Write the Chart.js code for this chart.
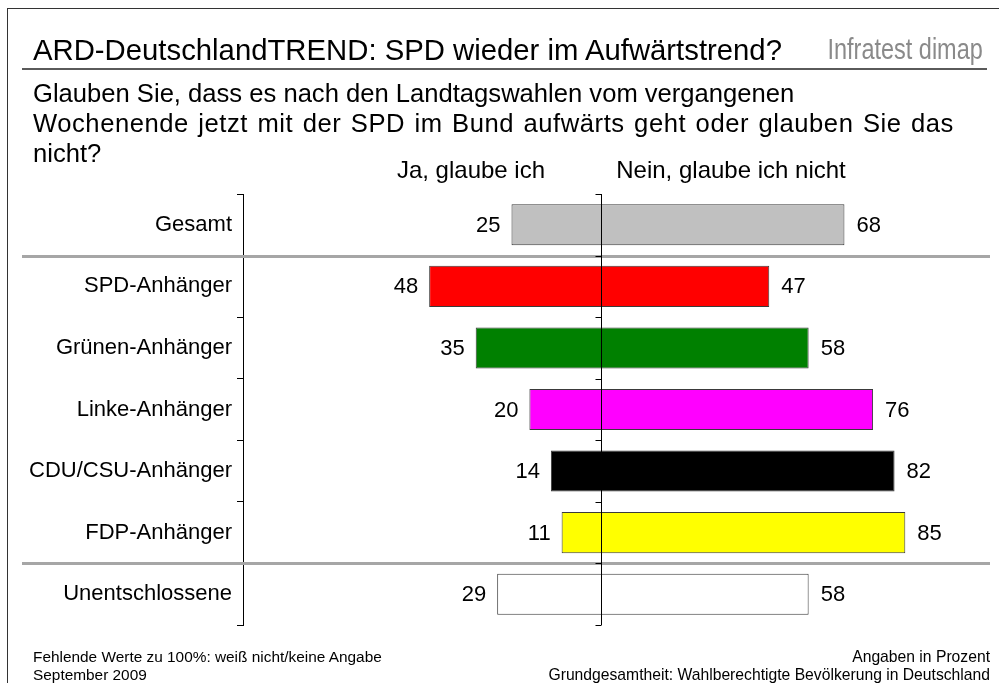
<!DOCTYPE html>
<html>
<head>
<meta charset="utf-8">
<script src="https://cdn.jsdelivr.net/npm/chart.js@4.4.1/dist/chart.umd.min.js"></script>
<style>
  html, body { margin: 0; padding: 0; background: #fff; }
  #wrap { position: relative; width: 999px; height: 683px; overflow: hidden; font-family: "Liberation Sans", Arial, sans-serif; color: #000; }
  #chartBox { position: absolute; left: 0; top: 0; width: 999px; height: 683px; }
  .t { position: absolute; white-space: nowrap; }
  .frameTop { position: absolute; left: 7px; top: 8px; width: 992px; height: 1px; background: #333; }
  .frameLeft { position: absolute; left: 7px; top: 8px; width: 1px; height: 675px; background: #333; }
  .rule { position: absolute; left: 22px; top: 68px; width: 965px; height: 2px; background: #5a5a5a; }
  #brand { transform: scaleX(0.81); transform-origin: right center; }
</style>
</head>
<body>
<div id="wrap">
  <div id="chartBox"><canvas id="c"></canvas></div>
  <div class="frameTop"></div>
  <div class="frameLeft"></div>
  <div class="t" id="title" style="left:33px; top:35.3px; font-size:29.3px; line-height:29.3px;">ARD-DeutschlandTREND: SPD wieder im Aufwärtstrend?</div>
  <div class="t" id="brand" style="right:16px; top:35px; font-size:29px; line-height:29px; color:#8a8a8a;">Infratest dimap</div>
  <div class="rule"></div>
  <div class="t" id="question" style="left:33px; top:78px; font-size:25.6px; line-height:30px;">Glauben Sie, dass es nach den Landtagswahlen vom vergangenen<br><span style="letter-spacing:0.55px; word-spacing:1.8px">Wochenende jetzt mit der SPD im Bund aufwärts geht oder glauben Sie das</span><br>nicht?</div>
  <div class="t" id="hJa" style="left:371px; width:200px; text-align:center; top:157.7px; font-size:24px; line-height:24px;">Ja, glaube ich</div>
  <div class="t" id="hNein" style="left:581px; width:300px; text-align:center; top:157.7px; font-size:24px; line-height:24px;">Nein, glaube ich nicht</div>
  <div class="t" style="left:33px; top:648px; font-size:15.4px; line-height:18px;">Fehlende Werte zu 100%: weiß nicht/keine Angabe<br>September 2009</div>
  <div class="t" style="right:9px; top:648px; font-size:15.7px; line-height:18px; text-align:right;">Angaben in Prozent<br>Grundgesamtheit: Wahlberechtigte Bevölkerung in Deutschland</div>
</div>
<script>
// ---- data ----
const categories = ['Gesamt', 'SPD-Anhänger', 'Grünen-Anhänger', 'Linke-Anhänger', 'CDU/CSU-Anhänger', 'FDP-Anhänger', 'Unentschlossene'];
const jaValues = [25, 48, 35, 20, 14, 11, 29];
const neinValues = [68, 47, 58, 76, 82, 85, 58];
const seriesNames = ['Ja, glaube ich', 'Nein, glaube ich nicht'];
const separatorAfter = [0, 5];
// ---- styles ----
const barColors = ['#c0c0c0', '#ff0000', '#008000', '#ff00ff', '#000000', '#ffff00', '#ffffff'];

const valueLabels = {
  id: 'valueLabels',
  afterDatasetsDraw(chart) {
    const ctx = chart.ctx;
    ctx.save();
    ctx.font = '22px "Liberation Sans", Arial, sans-serif';
    ctx.fillStyle = '#000';
    ctx.textBaseline = 'middle';
    chart.data.datasets.forEach((ds, di) => {
      const meta = chart.getDatasetMeta(di);
      meta.data.forEach((el, i) => {
        const v = Math.abs(ds.data[i]);
        if (di === 0) {
          ctx.textAlign = 'right';
          ctx.fillText(String(v), el.x - 11, el.y + 1);
        } else {
          ctx.textAlign = 'left';
          ctx.fillText(String(v), el.x + 12, el.y + 1);
        }
      });
    });
    ctx.restore();
  }
};

const axesDecor = {
  id: 'axesDecor',
  afterDraw(chart) {
    const ctx = chart.ctx;
    const ys = chart.scales.y, xs = chart.scales.x;
    const area = chart.chartArea;
    ctx.save();
    // separators
    ctx.strokeStyle = '#a6a6a6';
    ctx.lineWidth = 3;
    separatorAfter.forEach(i => {
      const y = Math.round((ys.getPixelForValue(i) + ys.getPixelForValue(i + 1)) / 2) + 0.5;
      ctx.beginPath();
      ctx.moveTo(22, y);
      ctx.lineTo(990, y);
      ctx.stroke();
    });
    // center axis
    const x0 = Math.round(xs.getPixelForValue(0)) + 0.5;
    ctx.strokeStyle = '#000';
    ctx.lineWidth = 1;
    ctx.beginPath();
    ctx.moveTo(x0, area.top);
    ctx.lineTo(x0, area.bottom);
    ctx.stroke();
    const n = categories.length;
    for (let i = 0; i <= n; i++) {
      let y;
      if (i === 0) y = area.top;
      else if (i === n) y = area.bottom;
      else y = (ys.getPixelForValue(i - 1) + ys.getPixelForValue(i)) / 2;
      y = Math.round(y) + 0.5;
      ctx.beginPath();
      ctx.moveTo(x0 - 6, y);
      ctx.lineTo(x0, y);
      ctx.stroke();
    }
    ctx.restore();
  }
};

new Chart(document.getElementById('c'), {
  type: 'bar',
  data: {
    labels: categories,
    datasets: [
      { label: seriesNames[0], data: jaValues.map(v => -v), backgroundColor: barColors, borderColor: '#3a3a3a', borderWidth: 1 },
      { label: seriesNames[1], data: neinValues, backgroundColor: barColors, borderColor: '#3a3a3a', borderWidth: 1 }
    ]
  },
  options: {
    indexAxis: 'y',
    responsive: true,
    maintainAspectRatio: false,
    animation: false,
    layout: { padding: { left: 0, right: 40, top: 194, bottom: 58 } },
    datasets: { bar: { categoryPercentage: 1, barPercentage: 0.667 } },
    plugins: { legend: { display: false }, tooltip: { enabled: false }, title: { display: false } },
    scales: {
      x: { display: false, stacked: true, min: -100, max: 100 },
      y: {
        stacked: true,
        afterFit(scale) { scale.width = 243; },
        grid: { offset: true, drawOnChartArea: false, drawTicks: true, tickLength: 6, color: '#000', lineWidth: 1 },
        border: { display: true, color: '#000', width: 1 },
        ticks: { color: '#000', padding: 5, font: { size: 22, family: '"Liberation Sans", Arial, sans-serif' } }
      }
    }
  },
  plugins: [valueLabels, axesDecor]
});
</script>
</body>
</html>
